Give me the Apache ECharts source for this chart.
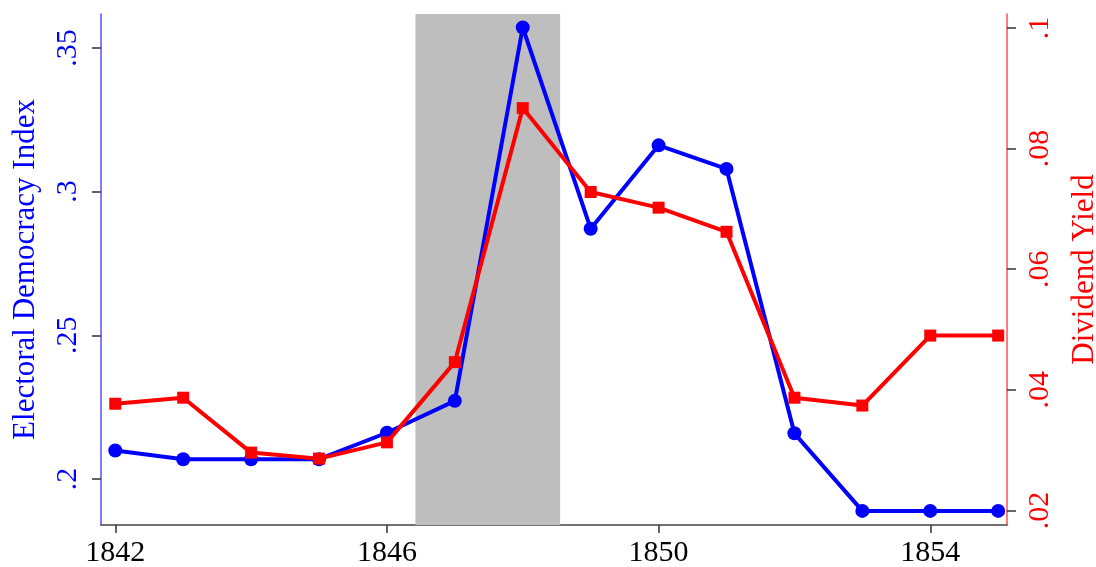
<!DOCTYPE html>
<html>
<head>
<meta charset="utf-8">
<script src="https://cdn.jsdelivr.net/npm/echarts@6/dist/echarts.min.js"></script>
<style>
html,body{margin:0;padding:0;background:#fff;}
#chart{width:1096px;height:567px;}
</style>
</head>
<body>
<div id="chart"></div>
<script>
const years = [1842,1843,1844,1845,1846,1847,1848,1849,1850,1851,1852,1853,1854,1855];
const democracy = [0.2099,0.2069,0.2069,0.2069,0.2161,0.2272,0.3571,0.2871,0.3161,0.3079,0.2159,0.1889,0.1889,0.1889];
const dividend = [0.0377,0.0387,0.0296,0.0286,0.0313,0.0446,0.0867,0.0728,0.0702,0.0662,0.0387,0.0374,0.0490,0.0490];
const shadeRange = [1846.42, 1848.55];
const xTicks = [1842,1846,1850,1854];
const leftTicks = [0.2,0.25,0.3,0.35];
const rightTicks = [0.02,0.04,0.06,0.08,0.1];

const fmt = v => String(+(+v).toFixed(3)).replace(/^0(?=\.)/, '');
const font = '"Liberation Serif","Times New Roman",serif';

const chart = echarts.init(document.getElementById('chart'), null, {renderer:'canvas'});
chart.setOption({
  animation: false,
  backgroundColor: '#ffffff',
  grid: {left: 101, right: 89, top: 14, bottom: 42, containLabel: false, outerBoundsMode: 'none'},
  xAxis: {
    type: 'value', min: 1841.79, max: 1855.13,
    axisLine: {show: true, lineStyle: {color: '#444', width: 1.5}},
    axisTick: {show: true, length: 8, lineStyle: {color: '#333', width: 1.5}, customValues: xTicks},
    axisLabel: {customValues: xTicks, margin: 13, fontFamily: font, fontSize: 30, color: '#000', formatter: v => String(v)},
    splitLine: {show: false}
  },
  yAxis: [
    {
      type: 'value', position: 'left', min: 0.184, max: 0.3618,
      name: 'Electoral Democracy Index', nameLocation: 'middle', nameGap: 60, nameRotate: 90,
      nameTextStyle: {fontFamily: font, fontSize: 31, color: '#0000ff'},
      axisLine: {show: true, lineStyle: {color: '#5050ff', width: 1.5}},
      axisTick: {show: true, length: 9, lineStyle: {color: '#333', width: 1.5}, customValues: leftTicks},
      axisLabel: {customValues: leftTicks, rotate: 90, margin: 18, fontFamily: font, fontSize: 30, color: '#0000ff', formatter: fmt},
      splitLine: {show: false}
    },
    {
      type: 'value', position: 'right', min: 0.0176, max: 0.1023,
      name: 'Dividend Yield', nameLocation: 'middle', nameGap: 62, nameRotate: 90,
      nameTextStyle: {fontFamily: font, fontSize: 31, color: '#ff0000'},
      axisLine: {show: true, lineStyle: {color: '#ff5050', width: 1.5}},
      axisTick: {show: true, length: 9, lineStyle: {color: '#333', width: 1.5}, customValues: rightTicks},
      axisLabel: {customValues: rightTicks, rotate: 90, margin: 18, fontFamily: font, fontSize: 30, color: '#ff0000', formatter: fmt},
      splitLine: {show: false}
    }
  ],
  series: [
    {
      type: 'line', name: 'shade', data: [], z: 0, silent: true,
      markArea: {
        silent: true,
        itemStyle: {color: '#bebebe', opacity: 1},
        data: [[{xAxis: shadeRange[0]}, {xAxis: shadeRange[1]}]]
      }
    },
    {
      type: 'line', name: 'Electoral Democracy Index', yAxisIndex: 0, z: 3,
      data: years.map((y,i) => [y, democracy[i]]),
      symbol: 'circle', symbolSize: 14, showAllSymbol: true,
      lineStyle: {color: '#0000ff', width: 4},
      itemStyle: {color: '#0000ff'}
    },
    {
      type: 'line', name: 'Dividend Yield', yAxisIndex: 1, z: 4,
      data: years.map((y,i) => [y, dividend[i]]),
      symbol: 'rect', symbolSize: 12, showAllSymbol: true,
      lineStyle: {color: '#ff0000', width: 4},
      itemStyle: {color: '#ff0000'}
    }
  ]
});
</script>
</body>
</html>
